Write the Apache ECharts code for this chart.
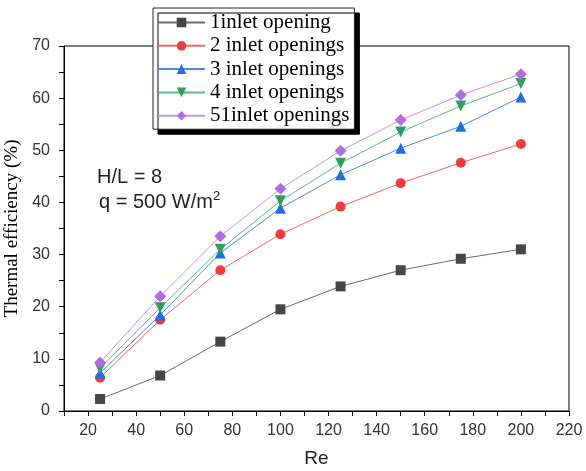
<!DOCTYPE html>
<html>
<head>
<meta charset="utf-8">
<script src="https://cdn.jsdelivr.net/npm/echarts@6/dist/echarts.min.js"></script>
<style>
  html, body { margin: 0; padding: 0; background: #fff; }
  #chart { width: 586px; height: 471px; }
</style>
</head>
<body>
<div id="chart"></div>
<script>
// Reynolds numbers sampled
const reValues = [25, 50, 75, 100, 125, 150, 175, 200];

// Thermal efficiency (%) per number of inlet openings
const eff1 = [2.3, 6.8, 13.3, 19.5, 23.9, 27.0, 29.2, 31.0];
const eff2 = [6.4, 17.5, 27.0, 33.9, 39.2, 43.7, 47.6, 51.2];
const eff3 = [7.3, 18.4, 30.3, 38.9, 45.3, 50.4, 54.6, 60.2];
const eff4 = [8.2, 19.8, 31.0, 40.3, 47.5, 53.5, 58.5, 62.8];
const eff5 = [9.3, 22.0, 33.5, 42.6, 49.9, 55.8, 60.6, 64.6];

const seriesNames = ['1inlet opening', '2 inlet openings', '3 inlet openings', '4 inlet openings', '51inlet openings'];

const chart = echarts.init(document.getElementById('chart'));

function pairs(vals) {
  return reValues.map((re, i) => [re, vals[i]]);
}

function makeSeries(name, vals, symbol, markColor, lineColor, rotate, size) {
  return {
    name: name,
    type: 'line',
    data: pairs(vals),
    symbol: symbol,
    symbolSize: size,
    symbolRotate: rotate,
    showAllSymbol: true,
    itemStyle: { color: markColor },
    lineStyle: { color: lineColor, width: 1 },
    emphasis: { disabled: true },
    z: 3
  };
}

const sans = 'Liberation Sans, Arial, sans-serif';
const serif = 'Liberation Serif, Times New Roman, serif';
const tickFont = { fontFamily: sans, fontSize: 16, color: '#333' };

chart.setOption({
  animation: false,
  backgroundColor: '#fff',
  grid: {
    left: 64, right: 17, top: 46, bottom: 60,
    outerBoundsMode: 'none',
    containLabel: false,
    show: true, borderColor: '#000', borderWidth: 1, backgroundColor: 'transparent'
  },
  legend: {
    orient: 'vertical',
    left: 153, top: 8,
    padding: [4, 5, 3, 4],
    itemWidth: 47, itemHeight: 12,
    itemGap: 2.3,
    backgroundColor: '#fff',
    borderColor: '#222', borderWidth: 1,
    shadowColor: '#000', shadowBlur: 0, shadowOffsetX: 5, shadowOffsetY: 5,
    textStyle: { fontFamily: serif, fontSize: 21, lineHeight: 21, color: '#000' },
    data: seriesNames,
    z: 10
  },
  xAxis: {
    type: 'value',
    min: 10, max: 220, interval: 10,
    name: 'Re',
    nameLocation: 'middle',
    nameGap: 38,
    nameTextStyle: { fontFamily: sans, fontSize: 19, color: '#222' },
    axisLine: { show: true, lineStyle: { color: '#000', width: 1 } },
    axisTick: { show: true, inside: false, length: 5, lineStyle: { color: '#000' } },
    axisLabel: Object.assign({
      margin: 12,
      formatter: v => (v % 20 === 0 ? String(v) : '')
    }, tickFont),
    splitLine: { show: false }
  },
  yAxis: {
    type: 'value',
    min: 0, max: 70, interval: 5,
    name: 'Thermal efficiency (%)',
    nameLocation: 'middle',
    nameGap: 38,
    nameRotate: 90,
    nameTextStyle: { fontFamily: serif, fontSize: 19, color: '#000' },
    axisLine: { show: true, lineStyle: { color: '#000', width: 1 } },
    axisTick: { show: true, inside: false, length: 5, lineStyle: { color: '#000' } },
    axisLabel: Object.assign({
      margin: 14,
      formatter: v => (v % 10 === 0 ? String(v) : '')
    }, tickFont),
    splitLine: { show: false }
  },
  graphic: [
    {
      type: 'text', left: 97, top: 167, z: 5,
      style: { text: 'H/L = 8', font: '20px Liberation Sans, Arial, sans-serif', fill: '#222' }
    },
    {
      type: 'text', left: 99, top: 190, z: 5,
      style: {
        text: '{b|q = 500 W/m}{s|2}',
        rich: {
          b: { fontFamily: sans, fontSize: 20, fill: '#222', verticalAlign: 'bottom' },
          s: { fontFamily: sans, fontSize: 13, fill: '#222', verticalAlign: 'top', padding: [0, 0, 9, 0] }
        }
      }
    }
  ],
  series: [
    makeSeries(seriesNames[0], eff1, 'rect', '#464646', '#6a6a6a', 0, 10),
    makeSeries(seriesNames[1], eff2, 'circle', '#f23b3b', '#f36666', 0, 10),
    makeSeries(seriesNames[2], eff3, 'triangle', '#1f6fe0', '#4a8cea', 0, 11),
    makeSeries(seriesNames[3], eff4, 'triangle', '#2f9e5f', '#5cba84', 180, 11),
    makeSeries(seriesNames[4], eff5, 'diamond', '#b06ee0', '#c394ee', 0, 12)
  ]
});
</script>
</body>
</html>
